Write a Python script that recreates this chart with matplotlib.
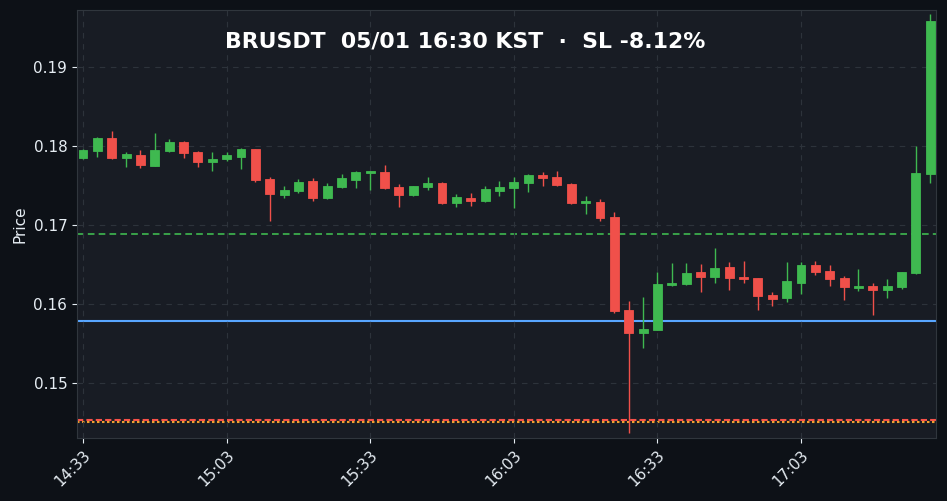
import numpy as np
import matplotlib.pyplot as plt

# 3-minute candles, 14:33 -> 17:30
opens = [0.17852, 0.17941, 0.18101, 0.17852, 0.17886, 0.17751, 0.17941, 0.18051, 0.17924, 0.17801,
         0.17839, 0.17865, 0.17962, 0.17582, 0.17384, 0.17434, 0.17557, 0.17346, 0.17485, 0.17573,
         0.17662, 0.17671, 0.17481, 0.17384, 0.17485, 0.17535, 0.17282, 0.17346, 0.17308, 0.17434,
         0.17472, 0.17535, 0.17633, 0.17608, 0.17519, 0.17282, 0.17291, 0.17101, 0.15924, 0.15637,
         0.15675, 0.16244, 0.16257, 0.16401, 0.16346, 0.16468, 0.16342, 0.16329, 0.16114, 0.16080,
         0.16270, 0.16494, 0.16418, 0.16329, 0.16206, 0.16228, 0.16181, 0.16219, 0.16396, 0.17649]
highs = [0.17962, 0.18110, 0.18190, 0.17928, 0.17946, 0.18161, 0.18085, 0.18063, 0.17937, 0.17928,
         0.17928, 0.17975, 0.17968, 0.17611, 0.17490, 0.17579, 0.17595, 0.17528, 0.17642, 0.17684,
         0.17684, 0.17756, 0.17515, 0.17494, 0.17604, 0.17541, 0.17392, 0.17405, 0.17490, 0.17553,
         0.17611, 0.17642, 0.17667, 0.17680, 0.17532, 0.17367, 0.17325, 0.17168, 0.16042, 0.16085,
         0.16401, 0.16515, 0.16515, 0.16503, 0.16705, 0.16528, 0.16541, 0.16336, 0.16148, 0.16528,
         0.16528, 0.16541, 0.16490, 0.16354, 0.16439, 0.16262, 0.16313, 0.16405, 0.18004, 0.19667]
lows = [0.17832, 0.17865, 0.17839, 0.17730, 0.17725, 0.17751, 0.17928, 0.17844, 0.17730, 0.17680,
        0.17806, 0.17705, 0.17541, 0.17047, 0.17342, 0.17409, 0.17300, 0.17333, 0.17472, 0.17472,
        0.17439, 0.17462, 0.17224, 0.17371, 0.17439, 0.17262, 0.17224, 0.17237, 0.17295, 0.17363,
        0.17211, 0.17414, 0.17490, 0.17497, 0.17262, 0.17135, 0.17057, 0.15882, 0.14363, 0.15439,
        0.15675, 0.16228, 0.16237, 0.16148, 0.16262, 0.16173, 0.16262, 0.15920, 0.15981, 0.16022,
        0.16123, 0.16371, 0.16224, 0.16047, 0.16161, 0.15857, 0.16072, 0.16194, 0.16380, 0.17532]
closes = [0.17949, 0.18101, 0.17852, 0.17899, 0.17763, 0.17949, 0.18051, 0.17915, 0.17801, 0.17839,
          0.17886, 0.17962, 0.17573, 0.17396, 0.17443, 0.17544, 0.17346, 0.17494, 0.17595, 0.17671,
          0.17684, 0.17472, 0.17384, 0.17494, 0.17535, 0.17282, 0.17358, 0.17304, 0.17456, 0.17481,
          0.17544, 0.17633, 0.17599, 0.17510, 0.17282, 0.17304, 0.17092, 0.15915, 0.15637, 0.15684,
          0.16253, 0.16266, 0.16392, 0.16346, 0.16456, 0.16333, 0.16317, 0.16105, 0.16067, 0.16291,
          0.16494, 0.16409, 0.16320, 0.16219, 0.16232, 0.16181, 0.16228, 0.16405, 0.17658, 0.19578]

tick_pos = [0, 10, 20, 30, 40, 50]
tick_labels = ["14:33", "15:03", "15:33", "16:03", "16:33", "17:03"]

tp_price = 0.1689      # green dashed
entry_price = 0.15785  # blue
liq_price = 0.14535    # red dashed
sl_price = 0.14505     # orange dotted

title = "BRUSDT  05/01 16:30 KST  ·  SL -8.12%"

BG = "#0d1117"
GREEN = "#3fb950"
RED = "#f0504a"

fig = plt.figure(figsize=(9.47, 5.01), dpi=100, facecolor=BG)
ax = fig.add_axes([0.0813, 0.1257, 0.9071, 0.8543])
ax.set_facecolor("#181c24")

x = np.arange(len(opens))
o = np.array(opens)
c = np.array(closes)
up = c >= o
colors = np.where(up, GREEN, RED)

# wicks then bodies
ax.vlines(x, lows, highs, colors=colors, linewidth=1.0, zorder=2)
body_h = np.maximum(np.abs(c - o), 0.00016)
body_b = np.minimum(o, c)
body_b = np.where(np.abs(c - o) < 0.00016, (o + c) / 2 - 0.00008, body_b)
ax.bar(x, body_h, bottom=body_b, width=0.62, color=colors, edgecolor=colors,
       linewidth=0.6, zorder=3)

ax.axhline(tp_price, color=GREEN, linestyle=(0, (4, 2.5)), linewidth=1.2, zorder=1)
ax.axhline(entry_price, color="#58a6ff", linewidth=1.5, zorder=1)
ax.axhline(liq_price, color="#f85149", linestyle=(0, (3, 1.5)), linewidth=1.5, zorder=1)
ax.axhline(sl_price, color="#f0a030", linestyle=(0, (1.2, 1.2)), linewidth=1.5, zorder=1)

ax.set_xlim(-0.42, 59.4)
ax.set_ylim(0.14304, 0.19722)
ax.set_xticks(tick_pos)
ax.set_xticklabels(tick_labels, rotation=45, ha="right", rotation_mode="anchor")
ax.set_yticks([0.15, 0.16, 0.17, 0.18, 0.19])
ax.set_yticklabels(["0.15", "0.16", "0.17", "0.18", "0.19"])
ax.tick_params(colors="#e6edf3", labelsize=11)
ax.grid(True, color="#2d333b", linestyle=(0, (5, 5)), linewidth=0.8, zorder=0)
for s in ax.spines.values():
    s.set_color("#30363d")
ax.set_ylabel("Price", color="#e6edf3", fontsize=11)

fig.text(0.491, 0.918, title, color="white", fontsize=15.8, fontweight="bold",
         ha="center", va="center")

fig.savefig("out.png", dpi=100, facecolor=BG)
